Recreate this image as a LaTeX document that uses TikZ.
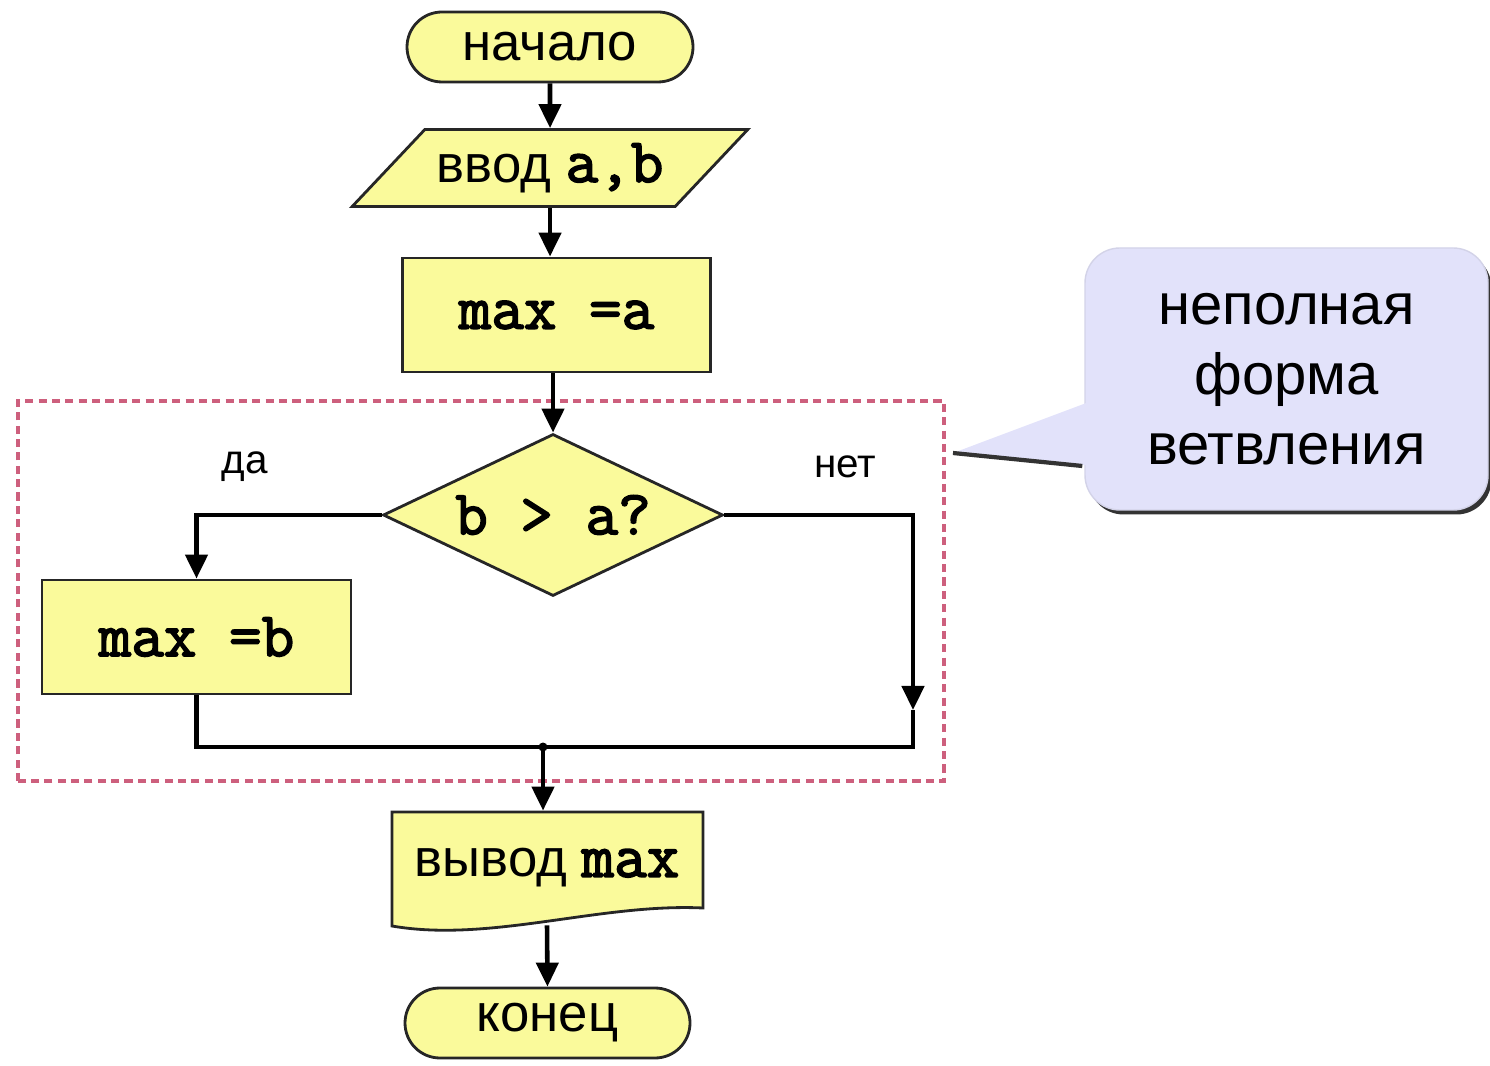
\documentclass[tikz,border=0pt]{standalone}
\usepackage{fontspec}
\setmainfont{Liberation Sans}
\setmonofont{Latin Modern Mono}[Scale=1.2,AutoFakeBold=2.5]
\usetikzlibrary{calc,arrows.meta,shapes.geometric,shadows}
\definecolor{boxyellow}{RGB}{250,250,155}
\definecolor{notelilac}{RGB}{226,226,250}
\definecolor{dashpink}{RGB}{205,95,125}
\newcommand{\cd}[1]{{\ttfamily\bfseries #1}}

\begin{document}
\begin{tikzpicture}[
  blk/.style={draw=black!85,line width=0.8pt,fill=boxyellow,font=\fontsize{15}{18}\selectfont},
  term/.style={blk,rectangle,rounded corners=0.35cm,minimum width=2.86cm,minimum height=0.70cm},
  proc/.style={blk,rectangle,minimum width=3.08cm,minimum height=1.14cm},
  flow/.style={line width=1.3pt,-{Triangle[length=0.24cm,width=0.22cm]}},
  wire/.style={line width=1.3pt},
  lbl/.style={font=\fontsize{11.5}{14}\selectfont}]
\useasboundingbox (0,0) rectangle (14.9,10.65);

% frame round the branch
\draw[dashpink,line width=1pt,dash pattern=on 2.3pt off 1.5pt] (0.18,2.84) rectangle (9.44,6.64);

\node[term](start)at(5.50,10.18){начало};
\node[blk,trapezium,trapezium left angle=45,trapezium right angle=135,trapezium stretches=true,
      minimum width=3.96cm,minimum height=0.77cm](inp)at(5.50,8.97){ввод \cd{a,b}};
\node[proc](seta)at(5.565,7.50){\cd{max =a}};
\node[blk,diamond,aspect=2.1,inner sep=0pt,minimum width=3.40cm,minimum height=1.62cm](cond)at(5.53,5.50){\cd{b > a?}};
\node[proc,minimum width=3.09cm](setb)at(1.965,4.28){\cd{max =b}};
\node[lbl](yes)at(2.45,5.98){да};
\node[lbl](no)at(8.45,5.98){нет};

% output block with wavy bottom
\filldraw[blk] (3.92,2.53) -- (7.03,2.53) -- (7.03,1.57) .. controls (6.0,1.62) and (4.9,1.22) .. (3.92,1.39) -- cycle;
\node[blk,draw=none,fill=none,minimum width=3.11cm,minimum height=1.12cm](outp)at(5.47,1.97){\raisebox{0.07cm}{вывод \cd{max}}};
\node[term,minimum width=2.85cm](stop)at(5.475,0.42){конец};

% connectors
\coordinate (join) at (5.43,3.18);
\coordinate (nodown) at (9.13,3.55);
\draw[flow](start)--(inp);
\draw[flow](inp.south)--(inp.south|-seta.north);
\draw[flow](cond.north|-seta.south)--(cond.north);
\draw[flow](cond.west)-|(setb.north);
\draw[flow](cond.east)-|(nodown);
\draw[wire](nodown)|-(join);
\draw[wire](setb.south)|-(join);
\fill(join)circle(0.045);
\draw[flow](join)--(join|-outp.north);
\draw[flow](outp.south)--(stop.north);

% callout
\node[rectangle,rounded corners=0.35cm,fill=notelilac,draw=notelilac!85!gray,line width=0.4pt,
      drop shadow={shadow xshift=0.035cm,shadow yshift=-0.045cm,fill=black!80,opacity=1},
      minimum width=4.03cm,minimum height=2.62cm,align=center,
      font=\fontsize{16.5}{19.9}\selectfont](note)at(12.865,6.86){неполная\\форма\\ветвления};
\coordinate (tip) at (9.53,6.12);
\fill[notelilac] (tip) -- ($(note.west)+(0.1,-0.21)$) -- ($(note.west)+(0.1,-0.87)$) -- cycle;
\draw[line width=1.2pt,black!80] (tip) -- ($(note.west)+(-0.02,-0.87)$);
\end{tikzpicture}
\end{document}
